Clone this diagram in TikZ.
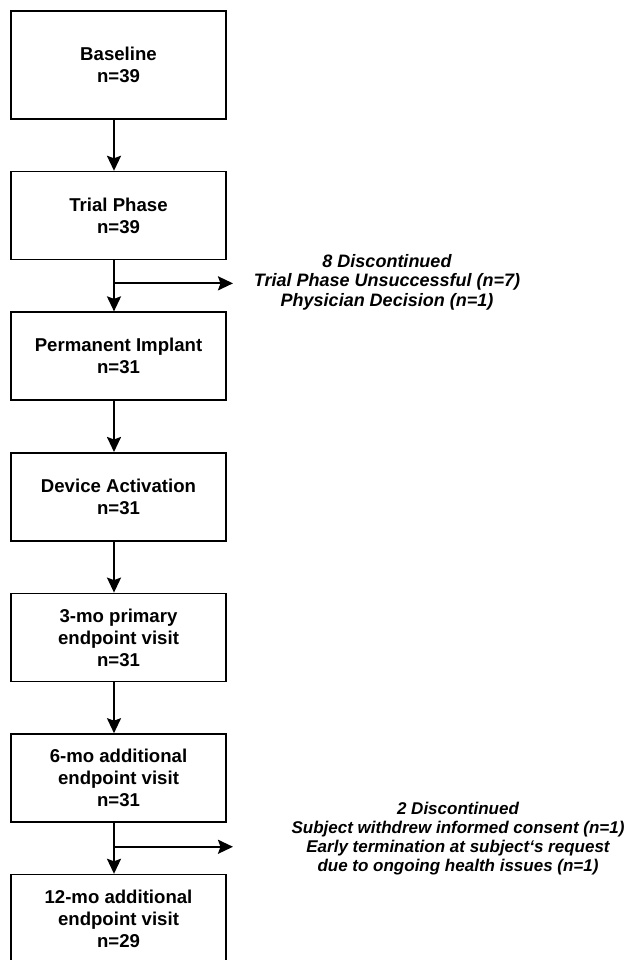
\documentclass[tikz,border=0pt]{standalone}
\usepackage{fontspec}
\setmainfont{Liberation Sans}
\usetikzlibrary{positioning,arrows.meta,calc}

\tikzset{
  stage/.style={draw, line width=1.6pt, minimum width=215pt, minimum height=88pt,
                align=center, font=\fontsize{18.6}{22}\selectfont\bfseries},
  flow/.style={line width=2.2pt, -{Stealth[length=15pt,width=14pt,inset=2.5pt]}},
  dropnote/.style={align=center, inner sep=0pt,
                   font=\fontsize{18}{19.5}\selectfont\bfseries\itshape},
}

\begin{document}
\begin{tikzpicture}[x=1pt,y=1pt,node distance=51pt]
    \useasboundingbox (0,0) rectangle (627,-960);

    % study stages
    \node[stage, minimum height=108pt] (base) at (118.5,-65) {Baseline\\n=39};
    \node[stage, below=of base]    (trial)   {Trial Phase\\n=39};
    \node[stage, below=of trial]   (implant) {Permanent Implant\\n=31};
    \node[stage, below=of implant] (activ)   {Device Activation\\n=31};
    \node[stage, below=of activ]   (visit3)  {3-mo primary\\endpoint visit\\n=31};
    \node[stage, below=of visit3]  (visit6)  {6-mo additional\\endpoint visit\\n=31};
    \node[stage, below=of visit6]  (visit12) {12-mo additional\\endpoint visit\\n=29};

    % arrows run a little left of the box centres
    \draw[flow] ([xshift=-4.5pt]base.south)    -- ([xshift=-4.5pt]trial.north);
    \draw[flow] ([xshift=-4.5pt]trial.south)   -- ([xshift=-4.5pt]implant.north);
    \draw[flow] ([xshift=-4.5pt]implant.south) -- ([xshift=-4.5pt]activ.north);
    \draw[flow] ([xshift=-4.5pt]activ.south)   -- ([xshift=-4.5pt]visit3.north);
    \draw[flow] ([xshift=-4.5pt]visit3.south)  -- ([xshift=-4.5pt]visit6.north);
    \draw[flow] ([xshift=-4.5pt]visit6.south)  -- ([xshift=-4.5pt]visit12.north);

    % drop-outs
    \coordinate (split1) at ($([xshift=-4.5pt]trial.south)!0.45!([xshift=-4.5pt]implant.north)$);
    \coordinate (tip1) at ([xshift=119pt]split1);
    \node[dropnote] (drop1) at ([xshift=273pt,yshift=1.5pt]split1)
        {8 Discontinued\\Trial Phase Unsuccessful (n=7)\\Physician Decision (n=1)};
    \draw[flow] (split1) -- (tip1);

    \coordinate (split2) at ($([xshift=-4.5pt]visit6.south)!0.47!([xshift=-4.5pt]visit12.north)$);
    \coordinate (tip2) at ([xshift=119pt]split2);
    \node[dropnote, font=\fontsize{17}{19}\selectfont\bfseries\itshape] (drop2)
        at ([xshift=344pt,yshift=8.5pt]split2)
        {2 Discontinued\\Subject withdrew informed consent (n=1)\\
         Early termination at subject\symbol{96}s request\\due to ongoing health issues (n=1)};
    \draw[flow] (split2) -- (tip2);
\end{tikzpicture}
\end{document}
